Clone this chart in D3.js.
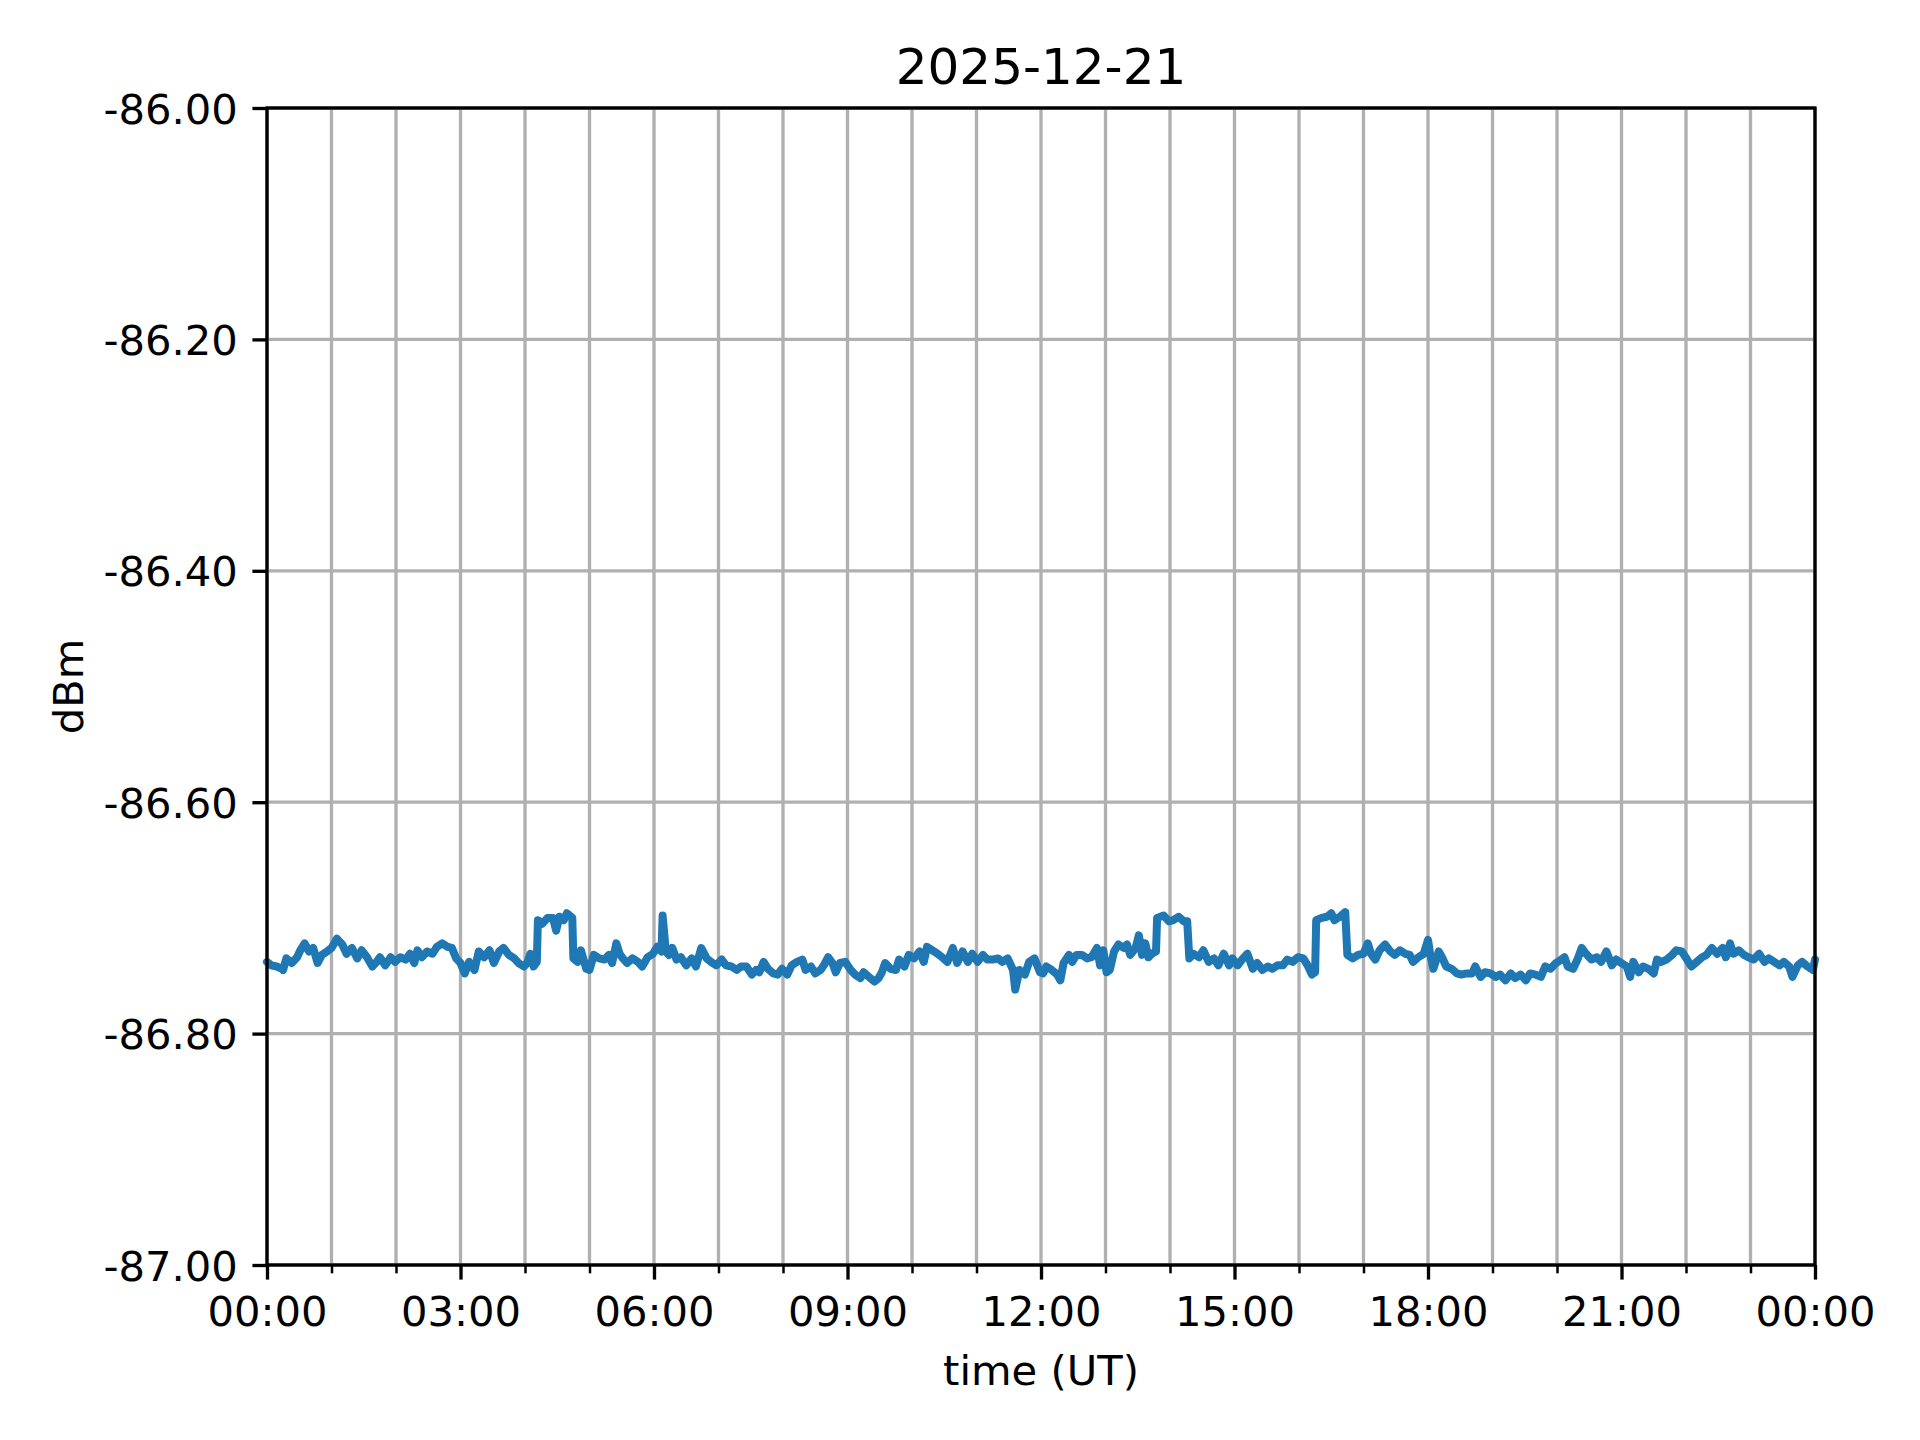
<!DOCTYPE html>
<html>
<head>
<meta charset="utf-8">
<script src="https://cdn.jsdelivr.net/npm/d3@7"></script>
<style>
  html, body { margin: 0; padding: 0; background: #fff; }
  svg text { font-family: "DejaVu Sans", sans-serif; fill: #000; }
</style>
</head>
<body>
<svg id="chart" width="1920" height="1440"></svg>
<script>
const title = "2025-12-21";
const xLabel = "time (UT)";
const yLabel = "dBm";
const yTicks = [-86.0, -86.2, -86.4, -86.6, -86.8, -87.0];
const xTickLabels = ["00:00", "03:00", "06:00", "09:00", "12:00", "15:00", "18:00", "21:00", "00:00"];

// minutes after 00:00 UT on 2025-12-21
const minutes = [
  0,4,9,14,15,18,23,28,31,35, 39,43,47,51,56,60,65,70,74,79, 84,88,93,98,102,105,110,115,119,124,
  129,133,137,140,144,149,154,158,163,168, 172,176,180,184,188,193,197,202,207,211, 216,220,225,230,234,239,
  242,245,248,251,252,256,261,266,269,272, 276,279,284,285,289,292,297,300,304,309,
  314,318,321,325,328,331,335,340,345,349, 354,359,363,367,368,371,374,377,381,385,
  390,395,399,404,409,413,418,423,427,432, 437,441,446,451,455,458,462,466,471,475,479,
  484,488,493,498,501,506,510,515,518,522, 526,529,533,538,543,547,552,555,560,565,
  569,572,575,580,585,588,593,597,602,607, 611,614,619,624,628,633,638,642,647,652,
  656,661,666,670,675,680,684,689,694,696, 700,705,709,714,719,
  722,725,730,735,738,741,746,749,753,758, 763,767,772,775,778,781,784,788,792,797,
  800,803,808,811,814,817,820,823,827,828, 834,839,843,848,853,856,858,862,867,871,
  876,881,885,890,895,898,903,907,912,917, 921,926,931,935,940,945,949,954,959,
  964,968,972,975,976,981,986,990,993,998, 1003,1005,1010,1015,1020,1024,1027,1031,1035,1040,
  1045,1049,1054,1059,1063,1066,1071,1076,1080,1082, 1085,1090,1093,1097,1102,1107,1111,1116,1121,1124,
  1129,1133,1138,1143,1147,1152,1157,1161,1166,1171, 1175,1180,1185,1189,1194,1199,
  1204,1207,1210,1215,1219,1223,1227,1232,1237,1241, 1246,1251,1255,1260,1265,1268,1271,1276,1280,1285,
  1290,1293,1297,1302,1307,1311,1316,1321,1325,1330, 1335,1339,1344,1349,1354,1357,1361,1364,1369,1374,
  1378,1383,1388,1393,1397,1402,1407,1411,1416,1419, 1424,1428,1433,1438,1440
];

const dbm = [
  -86.738,-86.741,-86.742,-86.744,-86.745,-86.735,-86.739,-86.734,-86.728,-86.722,
  -86.729,-86.726,-86.739,-86.732,-86.729,-86.726,-86.718,-86.723,-86.731,-86.726,
  -86.735,-86.728,-86.734,-86.742,-86.738,-86.734,-86.741,-86.734,-86.738,-86.734,
  -86.736,-86.731,-86.739,-86.728,-86.734,-86.729,-86.731,-86.725,-86.722,-86.725,
  -86.726,-86.735,-86.739,-86.748,-86.738,-86.745,-86.729,-86.734,-86.728,-86.739,
  -86.729,-86.726,-86.732,-86.735,-86.739,-86.742,
  -86.739,-86.731,-86.742,-86.738,-86.702,-86.705,-86.700,-86.700,-86.711,-86.699,
  -86.702,-86.696,-86.700,-86.735,-86.738,-86.728,-86.744,-86.745,-86.732,-86.735,
  -86.736,-86.732,-86.739,-86.722,-86.731,-86.735,-86.739,-86.735,-86.738,-86.742,
  -86.734,-86.731,-86.725,-86.729,-86.698,-86.729,-86.732,-86.726,-86.736,-86.734,
  -86.741,-86.735,-86.742,-86.726,-86.735,-86.738,-86.741,-86.736,-86.741,-86.742,
  -86.745,-86.742,-86.742,-86.749,-86.745,-86.747,-86.738,-86.744,-86.748,-86.749,-86.744,
  -86.749,-86.741,-86.738,-86.736,-86.745,-86.742,-86.748,-86.745,-86.741,-86.734,
  -86.739,-86.747,-86.739,-86.738,-86.745,-86.749,-86.752,-86.747,-86.751,-86.755,
  -86.752,-86.747,-86.739,-86.744,-86.745,-86.736,-86.742,-86.732,-86.735,-86.729,
  -86.738,-86.725,-86.728,-86.731,-86.734,-86.738,-86.726,-86.739,-86.729,-86.738,
  -86.731,-86.738,-86.732,-86.736,-86.736,-86.735,-86.738,-86.735,-86.745,-86.762,
  -86.745,-86.749,-86.738,-86.735,-86.747,
  -86.748,-86.742,-86.745,-86.749,-86.754,-86.739,-86.732,-86.738,-86.732,-86.732,
  -86.735,-86.734,-86.726,-86.741,-86.728,-86.747,-86.745,-86.729,-86.723,-86.726,
  -86.723,-86.732,-86.726,-86.715,-86.732,-86.722,-86.734,-86.731,-86.729,-86.700,
  -86.698,-86.703,-86.702,-86.699,-86.703,-86.703,-86.735,-86.731,-86.734,-86.728,
  -86.738,-86.735,-86.741,-86.731,-86.741,-86.735,-86.741,-86.736,-86.731,-86.744,
  -86.739,-86.745,-86.742,-86.744,-86.741,-86.741,-86.736,-86.738,-86.734,
  -86.735,-86.741,-86.749,-86.747,-86.702,-86.700,-86.699,-86.696,-86.702,-86.699,
  -86.695,-86.732,-86.735,-86.732,-86.731,-86.722,-86.731,-86.736,-86.728,-86.723,
  -86.729,-86.732,-86.728,-86.731,-86.732,-86.738,-86.734,-86.731,-86.719,-86.731,
  -86.744,-86.729,-86.734,-86.742,-86.744,-86.748,-86.749,-86.748,-86.748,-86.742,
  -86.751,-86.747,-86.748,-86.751,-86.749,-86.754,-86.748,-86.752,-86.749,-86.754,
  -86.748,-86.749,-86.751,-86.742,-86.744,-86.739,
  -86.736,-86.734,-86.742,-86.744,-86.736,-86.726,-86.731,-86.736,-86.734,-86.738,
  -86.729,-86.741,-86.736,-86.739,-86.742,-86.751,-86.738,-86.747,-86.742,-86.744,
  -86.748,-86.736,-86.738,-86.736,-86.732,-86.728,-86.729,-86.736,-86.742,-86.738,
  -86.734,-86.732,-86.726,-86.731,-86.726,-86.734,-86.722,-86.731,-86.728,-86.732,
  -86.734,-86.736,-86.731,-86.738,-86.735,-86.738,-86.741,-86.738,-86.742,-86.751,
  -86.741,-86.738,-86.742,-86.745,-86.736
];

const svg = d3.select("#chart");
const M = { left: 267, right: 1815, top: 108, bottom: 1265 };
const PT = 300 / 72;

const t0 = new Date(Date.UTC(2025, 11, 21, 0, 0));
const t1 = new Date(Date.UTC(2025, 11, 22, 0, 0));
const toDate = m => new Date(t0.getTime() + m * 60000);

const x = d3.scaleUtc().domain([t0, t1]).range([M.left, M.right]);
const y = d3.scaleLinear().domain([-87, -86]).range([M.bottom, M.top]);

svg.append("rect").attr("width", 1920).attr("height", 1440).attr("fill", "#fff");

const majorX = d3.utcHour.every(3).range(t0, new Date(t1.getTime() + 1));
const minorX = d3.utcHour.every(1).range(t0, new Date(t1.getTime() + 1)).filter(d => d.getUTCHours() % 3 !== 0);
const allX = d3.utcHour.every(1).range(t0, new Date(t1.getTime() + 1));

// grid
const grid = svg.append("g").attr("stroke", "#b0b0b0").attr("stroke-width", 0.8 * PT);
grid.selectAll("line.gx").data(allX).join("line")
  .attr("x1", d => x(d)).attr("x2", d => x(d))
  .attr("y1", M.top).attr("y2", M.bottom);
grid.selectAll("line.gy").data(yTicks).join("line")
  .attr("x1", M.left).attr("x2", M.right)
  .attr("y1", d => y(d)).attr("y2", d => y(d));

// data line
const data = minutes.map((m, i) => ({ t: toDate(m), v: dbm[i] }));
const line = d3.line().x(d => x(d.t)).y(d => y(d.v));
svg.append("path").datum(data)
  .attr("d", line)
  .attr("fill", "none")
  .attr("stroke", "#1f77b4")
  .attr("stroke-width", 8)
  .attr("stroke-linejoin", "round")
  .attr("stroke-linecap", "round");

// axes via d3
const xAxis = d3.axisBottom(x).tickValues(majorX)
  .tickFormat((d, i) => xTickLabels[i])
  .tickSize(3.5 * PT).tickPadding(3.5 * PT);
const gx = svg.append("g").attr("transform", `translate(0,${M.bottom})`).call(xAxis);
gx.select(".domain").remove();
gx.selectAll(".tick line").attr("stroke", "#000").attr("stroke-width", 0.8 * PT);
gx.selectAll(".tick text").attr("font-size", 10 * PT).attr("font-family", "DejaVu Sans").attr("dy", "0.76em");

const xMinor = d3.axisBottom(x).tickValues(minorX).tickFormat("").tickSize(2 * PT);
const gxm = svg.append("g").attr("transform", `translate(0,${M.bottom})`).call(xMinor);
gxm.select(".domain").remove();
gxm.selectAll(".tick line").attr("stroke", "#000").attr("stroke-width", 0.6 * PT);

const yAxis = d3.axisLeft(y).tickValues(yTicks)
  .tickFormat(d => d.toFixed(2))
  .tickSize(3.5 * PT).tickPadding(3.5 * PT);
const gy = svg.append("g").attr("transform", `translate(${M.left},0)`).call(yAxis);
gy.select(".domain").remove();
gy.selectAll(".tick line").attr("stroke", "#000").attr("stroke-width", 0.8 * PT);
gy.selectAll(".tick text").attr("font-size", 10 * PT).attr("font-family", "DejaVu Sans").attr("dy", "0.36em");

// spines
svg.append("rect")
  .attr("x", M.left).attr("y", M.top)
  .attr("width", M.right - M.left).attr("height", M.bottom - M.top)
  .attr("fill", "none").attr("stroke", "#000").attr("stroke-width", 0.8 * PT)
  .attr("stroke-linecap", "square");

// labels
svg.append("text").attr("x", (M.left + M.right) / 2).attr("y", 84)
  .attr("text-anchor", "middle").attr("font-size", 12 * PT).text(title);
svg.append("text").attr("x", (M.left + M.right) / 2).attr("y", 1385)
  .attr("text-anchor", "middle").attr("font-size", 10 * PT).text(xLabel);
svg.append("text").attr("transform", `translate(83,${(M.top + M.bottom) / 2}) rotate(-90)`)
  .attr("text-anchor", "middle").attr("font-size", 10 * PT).text(yLabel);
</script>
</body>
</html>
